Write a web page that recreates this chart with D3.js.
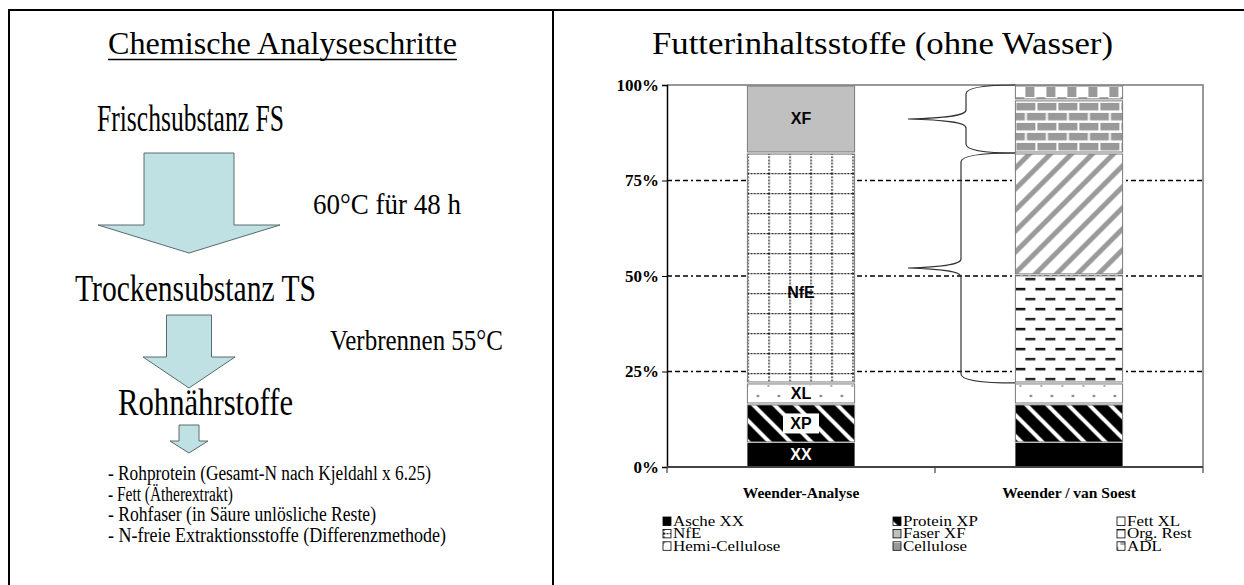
<!DOCTYPE html>
<html><head><meta charset="utf-8">
<script src="https://cdn.jsdelivr.net/npm/d3@7"></script>
<style>body{margin:0;background:#fff} svg{display:block}</style>
</head><body><svg id="c" width="1244" height="585"></svg>
<script>
// ---------- data ----------
const categories = ["Weender-Analyse", "Weender / van Soest"];
const seriesNames = ["Asche XX","Protein XP","Fett XL","NfE","Faser XF","Org. Rest","Hemi-Cellulose","Cellulose","ADL"];
const weenderValues  = [6.3, 10.2, 5.5, 60.2, 17.8, 0, 0, 0, 0];
const vanSoestValues = [6.3, 10.2, 5.5, 0, 0, 28.3, 31.9, 13.9, 3.9];
const barLabels = ["XX","XP","XL","NfE","XF"];
const yTicks = [0, 25, 50, 75, 100];
const gridValues = [25, 50, 75];
const leftTitle = "Chemische Analyseschritte";
const rightTitle = "Futterinhaltsstoffe (ohne Wasser)";
const stepTexts = ["Frischsubstanz FS", "Trockensubstanz TS", "Rohnährstoffe"];
const processTexts = ["60°C für 48 h", "Verbrennen 55°C"];
const listItems = [
  "- Rohprotein (Gesamt-N nach Kjeldahl x 6.25)",
  "- Fett (Ätherextrakt)",
  "- Rohfaser (in Säure unlösliche Reste)",
  "- N-freie Extraktionsstoffe (Differenzmethode)"
];

// ---------- setup ----------
const svg = d3.select("#c");
const SERIF = "'Liberation Serif','Times New Roman',serif";
const SANS = "'Liberation Sans',Arial,sans-serif";

// frame
svg.append("line").attr("x1",9).attr("x2",1244).attr("y1",10).attr("y2",10).attr("stroke","#000").attr("stroke-width",2);
svg.append("line").attr("x1",9).attr("x2",9).attr("y1",9).attr("y2",585).attr("stroke","#000").attr("stroke-width",2);
svg.append("line").attr("x1",553).attr("x2",553).attr("y1",9).attr("y2",585).attr("stroke","#000").attr("stroke-width",2);

// ---------- left panel ----------
const L = svg.append("g");
L.append("text").attr("x",108).attr("y",54).attr("font-family",SERIF).attr("font-size",31)
  .attr("textLength",349).attr("lengthAdjust","spacingAndGlyphs").text(leftTitle);
L.append("line").attr("x1",108).attr("x2",457).attr("y1",59.5).attr("y2",59.5).attr("stroke","#000").attr("stroke-width",1.3);

const stepPos = [{x:97,y:131,w:187},{x:75,y:301,w:241},{x:118,y:415,w:175}];
stepTexts.forEach((t,i)=>{
  L.append("text").attr("x",stepPos[i].x).attr("y",stepPos[i].y).attr("font-family",SERIF).attr("font-size",38)
   .attr("textLength",stepPos[i].w).attr("lengthAdjust","spacingAndGlyphs").text(t);
});
const procPos = [{x:313,y:214,w:148},{x:330,y:350,w:173}];
processTexts.forEach((t,i)=>{
  L.append("text").attr("x",procPos[i].x).attr("y",procPos[i].y).attr("font-family",SERIF).attr("font-size",30)
   .attr("textLength",procPos[i].w).attr("lengthAdjust","spacingAndGlyphs").text(t);
});
const listW = [323,125,268,338];
listItems.forEach((t,i)=>{
  L.append("text").attr("x",108).attr("y",480+i*20.7).attr("font-family",SERIF).attr("font-size",20)
   .attr("textLength",listW[i]).attr("lengthAdjust","spacingAndGlyphs").text(t);
});
function arrow(cx, sw, top, base, hw, tip){
  return [[cx-sw/2,top],[cx+sw/2,top],[cx+sw/2,base],[cx+hw/2,base],[cx,tip],[cx-hw/2,base],[cx-sw/2,base]];
}
[arrow(189,90,153,225,182,253), arrow(189,45,315,357,92,388), arrow(189,20,425,441,38,453)].forEach(p=>{
  L.append("path").attr("d", d3.line()(p)+"Z").attr("fill","#bfe1e4").attr("stroke","#5a6a6c").attr("stroke-width",1);
});

// ---------- right panel ----------
const R = svg.append("g");
R.append("text").attr("x",652).attr("y",54).attr("font-family",SERIF).attr("font-size",32)
  .attr("textLength",461).attr("lengthAdjust","spacingAndGlyphs").text(rightTitle);

const X0 = 667, X1 = 1203, Y0 = 467, Y1 = 85;
const x = d3.scaleBand().domain(categories).range([X0, X1]).paddingInner(0.6).paddingOuter(0.3);
const y = d3.scaleLinear().domain([0,100]).range([Y0, Y1]);
const bw = x.bandwidth();

const rows = categories.map((c,ci)=>{
  const o = {cat:c};
  seriesNames.forEach((s,si)=>{ o[s] = (ci===0?weenderValues:vanSoestValues)[si]; });
  return o;
});
const stack = d3.stack().keys(seriesNames)(rows);

// patterns
const defs = svg.append("defs");
const bx0 = x(categories[0]), bx1 = x(categories[1]);
let p = defs.append("pattern").attr("id","p1").attr("patternUnits","userSpaceOnUse").attr("width",21).attr("height",21).attr("x",bx0);
p.append("rect").attr("width",21).attr("height",21).attr("fill","#000");
p.append("path").attr("d","M0,0L21,21M-6,15L6,27M15,-6L27,6").attr("stroke","#fff").attr("stroke-width",4);
p = defs.append("pattern").attr("id","p2").attr("patternUnits","userSpaceOnUse").attr("width",21).attr("height",20).attr("x",bx0).attr("y",y(22)+1);
p.append("rect").attr("width",21).attr("height",20).attr("fill","#fff");
p.append("circle").attr("cx",10.5).attr("cy",12).attr("r",1.3).attr("fill","#777");
p.append("circle").attr("cx",0).attr("cy",2).attr("r",1.1).attr("fill","#999");
p.append("circle").attr("cx",21).attr("cy",2).attr("r",1.1).attr("fill","#999");
p = defs.append("pattern").attr("id","p3").attr("patternUnits","userSpaceOnUse").attr("width",21).attr("height",20).attr("x",bx0).attr("y",y(82.2));
p.append("rect").attr("width",21).attr("height",20).attr("fill","#fff");
p.append("path").attr("d","M0.5,0V20M0,0.5H21").attr("stroke","#222").attr("stroke-width",1.6).attr("stroke-dasharray","2,1.2");
p = defs.append("pattern").attr("id","p5").attr("patternUnits","userSpaceOnUse").attr("width",20).attr("height",20).attr("x",bx1).attr("y",y(50.3)+3);
p.append("rect").attr("width",20).attr("height",20).attr("fill","#fff");
p.append("rect").attr("x",10).attr("y",0).attr("width",10).attr("height",2.5).attr("fill","#222");
p.append("rect").attr("x",0).attr("y",10).attr("width",10).attr("height",2.5).attr("fill","#111");
p = defs.append("pattern").attr("id","p6").attr("patternUnits","userSpaceOnUse").attr("width",21).attr("height",21).attr("x",bx1);
p.append("rect").attr("width",21).attr("height",21).attr("fill","#fff");
p.append("path").attr("d","M0,21L21,0M-6,6L6,-6M15,27L27,15").attr("stroke","#9a9a9a").attr("stroke-width",5);
p = defs.append("pattern").attr("id","p7").attr("patternUnits","userSpaceOnUse").attr("width",21).attr("height",20).attr("x",bx1).attr("y",y(96.1)+2);
p.append("rect").attr("width",21).attr("height",20).attr("fill","#fff");
p.append("rect").attr("x",1).attr("y",1).attr("width",19).attr("height",7.5).attr("fill","#999");
p.append("rect").attr("x",-9.5).attr("y",11).attr("width",19).attr("height",7.5).attr("fill","#999");
p.append("rect").attr("x",11.5).attr("y",11).attr("width",19).attr("height",7.5).attr("fill","#999");
p = defs.append("pattern").attr("id","p8").attr("patternUnits","userSpaceOnUse").attr("width",21).attr("height",20).attr("x",bx1).attr("y",Y1);
p.append("rect").attr("width",21).attr("height",20).attr("fill","#fff");
p.append("rect").attr("x",10).attr("y",2).attr("width",9).attr("height",10).attr("fill","#999");
p.append("rect").attr("x",0).attr("y",12).attr("width",9).attr("height",8).attr("fill","#aaa");

const fills = ["#000","url(#p1)","url(#p2)","url(#p3)","#c0c0c0","url(#p5)","url(#p6)","url(#p7)","url(#p8)"];

// gridlines
R.selectAll("line.grid").data(gridValues).join("line").attr("class","grid")
  .attr("x1",X0).attr("x2",X1).attr("y1",d=>y(d)).attr("y2",d=>y(d))
  .attr("stroke","#000").attr("stroke-width",1.6).attr("stroke-dasharray","5,3,5,3,5,3,2,3");
R.append("path").attr("d",`M${X0},${Y1}H${X1}V${Y0}`).attr("fill","none").attr("stroke","#777").attr("stroke-width",1.5);

// bars
stack.forEach((layer,si)=>{
  R.selectAll(null).data(layer.filter(d=>d[1]-d[0]>0)).join("rect")
    .attr("x",d=>x(d.data.cat)).attr("width",bw)
    .attr("y",d=>y(d[1])+(si===0?0:1)).attr("height",d=>Math.max(0,y(d[0])-y(d[1])-(si===0?0:2)))
    .attr("fill",fills[si]).attr("stroke",si===0?"none":"#7a7a7a").attr("stroke-width",1);
});

// bar labels
const labelOffset = {"NfE":-25};
barLabels.forEach((lab,i)=>{
  const d = stack[i][0];
  const cy = (y(d[0])+y(d[1]))/2 + (labelOffset[lab]? -labelOffset[lab]:0);
  const cx = x(categories[0])+bw/2;
  if(lab==="XP"||lab==="XL"){
    const w = lab==="XP"?36:30, h= lab==="XP"?20:16;
    R.append("rect").attr("x",cx-w/2).attr("y",cy-h/2).attr("width",w).attr("height",h).attr("fill","#fff");
  }
  R.append("text").attr("x",cx).attr("y",cy+5.5).attr("text-anchor","middle")
    .attr("font-family",SANS).attr("font-weight","bold").attr("font-size",16)
    .attr("fill",lab==="XX"?"#fff":"#000").text(lab);
});

// braces
const vs = stack.map(l=>l[1]);
function brace(xr, yt, yb, xs, xt){
  const ym = (yt+yb)/2;
  return `M${xr},${yt} C${xs+30},${yt} ${xs},${yt+1} ${xs},${yt+9} L${xs},${ym-9} C${xs},${ym-3} ${xs-22},${ym-1} ${xt},${ym}`+
         ` C${xs-22},${ym+1} ${xs},${ym+3} ${xs},${ym+9} L${xs},${yb-9} C${xs},${yb-1} ${xs+30},${yb} ${xr},${yb}`;
}
R.append("path").attr("d",brace(bx1, y(vs[8][1]), y(vs[6][1]), 966, 908)).attr("fill","none").attr("stroke","#333").attr("stroke-width",1.2);
R.append("path").attr("d",brace(bx1, y(vs[6][1]), y(vs[2][1]), 961, 908)).attr("fill","none").attr("stroke","#333").attr("stroke-width",1.2);

// axes
const yAxis = d3.axisLeft(y).tickValues(yTicks).tickFormat(d=>d+"%").tickSize(5).tickPadding(3);
const ga = R.append("g").attr("transform",`translate(${X0},0)`).call(yAxis);
ga.select(".domain").attr("stroke","#000").attr("stroke-width",1.5);
ga.selectAll("text").attr("font-family",SERIF).attr("font-weight","bold").attr("font-size",17).attr("fill","#000");
const bounds = [X0, (x(categories[0])+bw+x(categories[1]))/2, X1];
R.append("line").attr("x1",X0).attr("x2",X1).attr("y1",Y0).attr("y2",Y0).attr("stroke","#444").attr("stroke-width",2);
R.selectAll("line.xt").data(bounds).join("line").attr("class","xt")
  .attr("x1",d=>d).attr("x2",d=>d).attr("y1",Y0).attr("y2",Y0+6).attr("stroke","#444").attr("stroke-width",1.2);
R.selectAll("text.cat").data(categories).join("text").attr("class","cat")
  .attr("x",d=>x(d)+bw/2).attr("y",498).attr("text-anchor","middle")
  .attr("font-family",SERIF).attr("font-weight","bold").attr("font-size",15.5).text(d=>d);

// legend
const colX = [663, 893, 1117];
seriesNames.forEach((s,i)=>{
  const cx = colX[i%3], cy = 515.5 + Math.floor(i/3)*12.4;
  R.append("rect").attr("x",cx).attr("y",cy+1.5).attr("width",8).attr("height",8.5)
    .attr("fill",fills[i]).attr("stroke","#000").attr("stroke-width",0.8);
  R.append("text").attr("transform",`translate(${cx+10},${cy+10.5}) scale(1.13,1)`)
    .attr("font-family",SERIF).attr("font-size",15).text(s);
});
</script></body></html>
